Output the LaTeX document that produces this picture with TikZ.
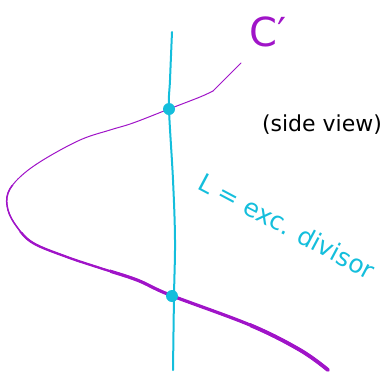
\documentclass[tikz,border=0pt]{standalone}
\usepackage{fontspec}
\setmainfont{DejaVu Sans}
\definecolor{curvepurple}{RGB}{160,20,200}
\definecolor{lineblue}{RGB}{20,190,220}
\begin{document}
\begin{tikzpicture}[x=1pt,y=-1pt,
  curve/.style={draw=curvepurple,line cap=round,line join=round},
  exline/.style={draw=lineblue,line width=2pt,line cap=round},
  pt/.style={circle,fill=lineblue,inner sep=0pt,minimum size=12pt}]
\useasboundingbox (0,0) rectangle (390,373);
% exceptional divisor L
\draw[exline] plot[smooth,tension=0.6] coordinates {(172,32) (170,80) (169,109) (173,180) (175,240) (174,296) (173,370)};
% curve C'
\def\cpath{plot[smooth,tension=0.6] coordinates {(213,91) (200,97) (169,109) (133,123) (110,130) (80,140) (43,160) (20,177) (8,193) (8,210) (17,227) (33,243) (67,257) (100,268) (137,280) (170,295) (250,325) (300,350) (328,370)}}
\draw[curve,line width=0.8pt] (241,63) -- (228,76) -- (213,91);
\draw[curve,line width=1pt] \cpath;
\begin{scope}
  \clip (0,185) rectangle (390,373);
  \draw[curve,line width=1.5pt] \cpath;
\end{scope}
\begin{scope}
  \clip (0,232) rectangle (390,373);
  \draw[curve,line width=2.3pt] \cpath;
\end{scope}
\begin{scope}
  \clip (110,0) rectangle (390,373);
  \clip (0,265) rectangle (390,373);
  \draw[curve,line width=3.2pt] \cpath;
\end{scope}
\begin{scope}
  \clip (250,0) rectangle (390,373);
  \draw[curve,line width=3.8pt] \cpath;
\end{scope}
% intersection points
\node[pt] (p1) at (169,109) {};
\node[pt] (p2) at (172,296) {};
% labels
\node[text=curvepurple,font=\fontsize{40}{40}\selectfont] (lc) at (268,32) {C′};
\node[text=black,font=\fontsize{22}{22}\selectfont] (lsv) at (322,125) {(side view)};
\node[text=lineblue,font=\fontsize{25}{25}\selectfont,rotate=-28] (ll) at (287,226) {L = exc. divisor};
\end{tikzpicture}
\end{document}
